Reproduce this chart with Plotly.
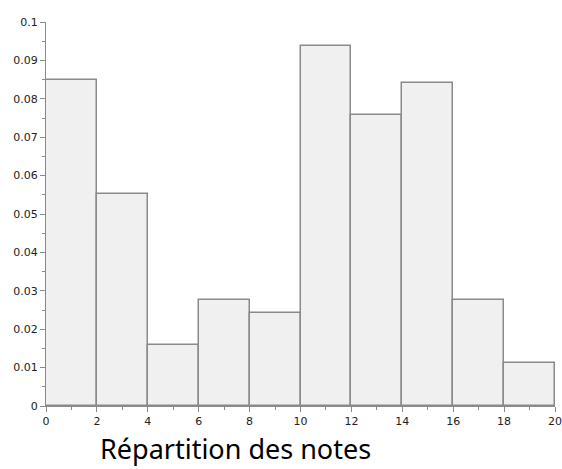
import plotly.graph_objects as go

bin_edges = [0, 2, 4, 6, 8, 10, 12, 14, 16, 18, 20]
densities = [0.0848, 0.0551, 0.0160, 0.0277, 0.0241, 0.0938, 0.0757, 0.0842, 0.0277, 0.0113]
title_text = "Répartition des notes"
x_ticks = [0, 2, 4, 6, 8, 10, 12, 14, 16, 18, 20]
y_ticks = [0, 0.01, 0.02, 0.03, 0.04, 0.05, 0.06, 0.07, 0.08, 0.09, 0.1]

centers = [(a + b) / 2 for a, b in zip(bin_edges[:-1], bin_edges[1:])]
widths = [b - a for a, b in zip(bin_edges[:-1], bin_edges[1:])]

fig = go.Figure(go.Bar(
    x=centers, y=densities, width=widths,
    marker=dict(color="#f0f0f0", line=dict(color="#8a8a8a", width=1.5)),
    hoverinfo="skip",
))

axis_common = dict(
    showgrid=False, zeroline=False, showline=True, linecolor="#8a8a8a", linewidth=1,
    ticks="outside", ticklen=5, tickcolor="#8a8a8a", tickwidth=1,
    tickfont=dict(family="DejaVu Sans", size=11, color="#222222"),
    automargin=False,
)

fig.update_xaxes(range=[0, 20], tickvals=x_ticks, ticktext=[str(v) for v in x_ticks],
                 minor=dict(ticks="outside", ticklen=3, tickcolor="#8a8a8a", tickwidth=1, dtick=1),
                 **axis_common)
fig.update_yaxes(range=[0, 0.1], tickvals=y_ticks, ticktext=[("%g" % v) for v in y_ticks],
                 minor=dict(ticks="outside", ticklen=3, tickcolor="#8a8a8a", tickwidth=1, dtick=0.005),
                 **axis_common)

fig.add_annotation(
    text=title_text, xref="paper", yref="paper", x=0.372, y=-0.162,
    xanchor="center", yanchor="bottom", showarrow=False, borderpad=0,
    font=dict(family="Noto Sans", size=27, color="#000000"),
)

fig.update_layout(
    width=562, height=469,
    margin=dict(l=46, r=7, t=22, b=63),
    plot_bgcolor="white", paper_bgcolor="white",
    showlegend=False, bargap=0,
)

fig.write_html("out.html", config={"displayModeBar": False},
               post_script="document.body.style.margin='0';document.body.style.padding='0';")
